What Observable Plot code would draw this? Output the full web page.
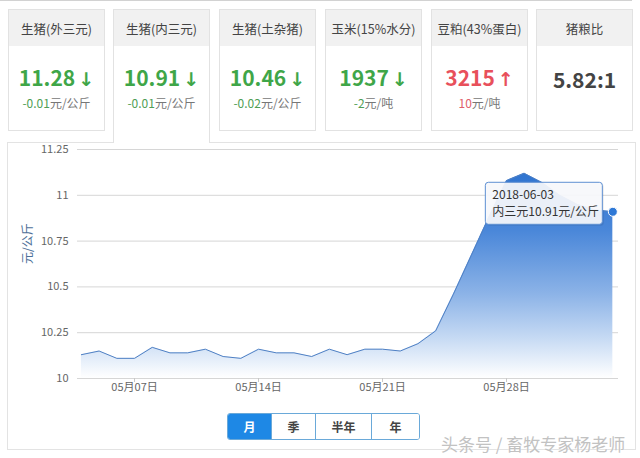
<!DOCTYPE html>
<html>
<head>
<meta charset="utf-8">
<script src="https://cdn.jsdelivr.net/npm/d3@7"></script>
<script src="https://cdn.jsdelivr.net/npm/@observablehq/plot@0.6"></script>
<style>
  html, body { margin: 0; padding: 0; background: #fff; }
  body { width: 640px; height: 458px; position: relative; overflow: hidden;
         font-family: "Noto Sans CJK SC", "Noto Sans", sans-serif; }
  .topline { position: absolute; left: 0; top: 0; width: 632px; height: 1px; background: #d2d2d2; }
  .card { position: absolute; top: 9px; width: 95px; height: 120px; border: 1px solid #e2e2e2;
          background: #fff; box-sizing: content-box; text-align: center; }
  .card.active { height: 133px; border-bottom: none; z-index: 3; }
  .card .hd { height: 36px; line-height: 38px; background: #f1f1f1; font-size: 12.5px; color: #444; }
  .card .val { position: absolute; left: 0; right: 0; top: 53px; line-height: 28px; font-size: 21px; font-weight: bold; }
  .card .chg { position: absolute; left: 0; right: 0; top: 84px; line-height: 18px; font-size: 12px; color: #777; }
  .arrow { font-family: "DejaVu Sans", sans-serif; font-weight: bold; font-size: 19px; margin-left: 3px; }
  .panel { position: absolute; left: 7px; top: 142px; width: 627px; height: 306px; border: 1px solid #e3e3e3; z-index: 1; background: #fff; }
  #chart { position: absolute; left: 7px; top: 137px; z-index: 2; }
  .btns { position: absolute; left: 227px; top: 413px; height: 25px; display: flex; border: 1px solid #6aa9d9;
          border-radius: 3px; overflow: hidden; z-index: 2; }
  .btns div { height: 25px; line-height: 25px; text-align: center; font-size: 12px; font-weight: bold; color: #444; background: #fff;
              border-left: 1px solid #6aa9d9; }
  .btns div:first-child { border-left: none; }
  .btns div.on { background: #1e88e5; color: #fff; }
  .wm { position: absolute; left: 441px; top: 431px; font-size: 17px; color: #c2c2c2; z-index: 4; white-space: nowrap;
        text-shadow: 0 0 2px #fff; }
</style>
</head>
<body>
<div class="topline"></div>
<div id="cards"></div>
<div class="panel"></div>
<div id="chart"></div>
<div class="btns" id="btns"></div>
<div class="wm">头条号 / 畜牧专家杨老师</div>
<script>
// ---- card data ----
const cardTitles = ["生猪(外三元)", "生猪(内三元)", "生猪(土杂猪)", "玉米(15%水分)", "豆粕(43%蛋白)", "猪粮比"];
const cardValues = ["11.28", "10.91", "10.46", "1937", "3215", "5.82:1"];
const cardChanges = ["-0.01", "-0.01", "-0.02", "-2", "10", ""];
const cardUnits = ["元/公斤", "元/公斤", "元/公斤", "元/吨", "元/吨", ""];
const cardDirs = ["down", "down", "down", "down", "up", "none"];
const activeCard = 1;

// ---- series data (内三元, 元/公斤) ----
const dates = [
  "2018-05-04","2018-05-05","2018-05-06","2018-05-07","2018-05-08","2018-05-09","2018-05-10",
  "2018-05-11","2018-05-12","2018-05-13","2018-05-14","2018-05-15","2018-05-16","2018-05-17",
  "2018-05-18","2018-05-19","2018-05-20","2018-05-21","2018-05-22","2018-05-23","2018-05-24",
  "2018-05-25","2018-05-26","2018-05-27","2018-05-28","2018-05-29","2018-05-30","2018-05-31",
  "2018-06-01","2018-06-02","2018-06-03"
];
const prices = [
  10.13, 10.15, 10.11, 10.11, 10.17, 10.14, 10.14,
  10.16, 10.12, 10.11, 10.16, 10.14, 10.14, 10.12,
  10.16, 10.13, 10.16, 10.16, 10.15, 10.19, 10.26,
  10.46, 10.67, 10.88, 11.08, 11.12, 11.07, 11.00,
  10.95, 10.92, 10.91
];
const seriesName = "内三元";
const unitLabel = "元/公斤";
const yTicks = [10, 10.25, 10.5, 10.75, 11, 11.25];
const xTickDates = ["2018-05-07", "2018-05-14", "2018-05-21", "2018-05-28"];
const rangeButtons = ["月", "季", "半年", "年"];

// ---- cards ----
const green = "#3fa648", red = "#e8505b";
const lefts = [8, 113, 219, 325, 431, 536];
const cardsEl = document.getElementById("cards");
cardTitles.forEach((t, i) => {
  const c = document.createElement("div");
  c.className = "card" + (i === activeCard ? " active" : "");
  c.style.left = lefts[i] + "px";
  const col = cardDirs[i] === "down" ? green : cardDirs[i] === "up" ? red : "#444";
  const arrow = cardDirs[i] === "down" ? "↓" : cardDirs[i] === "up" ? "↑" : "";
  let html = `<div class="hd">${t}</div>`;
  html += `<div class="val" style="color:${col}">${cardValues[i]}${arrow ? `<span class="arrow">${arrow}</span>` : ""}</div>`;
  if (cardChanges[i]) {
    const cc = cardDirs[i] === "down" ? "#4f9e55" : "#e0606a";
    html += `<div class="chg"><span style="color:${cc}">${cardChanges[i]}</span>${cardUnits[i]}</div>`;
  }
  c.innerHTML = html;
  if (!cardChanges[i]) c.querySelector(".val").style.top = "55px";
  cardsEl.appendChild(c);
});

// ---- buttons ----
const btnWidths = [43, 43, 55, 47];
const btnsEl = document.getElementById("btns");
rangeButtons.forEach((b, i) => {
  const d = document.createElement("div");
  d.textContent = b;
  d.style.width = btnWidths[i] + "px";
  if (i === 0) d.className = "on";
  btnsEl.appendChild(d);
});

// ---- chart ----
const parse = d3.utcParse("%Y-%m-%d");
const data = dates.map((d, i) => ({date: parse(d), value: prices[i]}));
const day = 864e5;
const xDomain = [new Date(+data[0].date - 0.22 * day), new Date(+data[data.length - 1].date + 0.32 * day)];
const yMin = yTicks[0];
const last = data[data.length - 1];
const fmtTick = d3.utcFormat("%m月%d日");
const fmtDate = d3.utcFormat("%Y-%m-%d");

const gradientMark = (index, scales) => {
  const defs = d3.create("svg:defs");
  const g = defs.append("linearGradient").attr("id", "areaGrad")
    .attr("gradientUnits", "userSpaceOnUse")
    .attr("x1", 0).attr("x2", 0)
    .attr("y1", scales.y(11.15)).attr("y2", scales.y(yMin));
  [[0, "#2c72cf"], [0.3, "#4a87d9"], [0.6, "#8cb3e7"], [0.8, "#c3d8f3"], [1, "#ffffff"]].forEach(([o, c]) =>
    g.append("stop").attr("offset", o).attr("stop-color", c));
  return defs.node();
};

const tooltipMark = (index, scales) => {
  const px = scales.x(last.date), py = scales.y(last.value);
  const g = d3.create("svg:g").attr("transform", `translate(${px - 127},${py - 29})`)
    .attr("text-anchor", "start");
  g.append("rect").attr("x", 1.5).attr("y", 1.5).attr("width", 117).attr("height", 42).attr("rx", 3)
    .attr("fill", "#000").attr("fill-opacity", 0.08);
  g.append("rect").attr("width", 117).attr("height", 42).attr("rx", 3)
    .attr("fill", "#f7f9fc").attr("fill-opacity", 0.93).attr("stroke", "#5d8fd2").attr("stroke-width", 1);
  g.append("text").attr("x", 7).attr("y", 17).attr("font-size", 12).attr("fill", "#333")
    .attr("text-anchor", "start").text(fmtDate(last.date));
  g.append("text").attr("x", 7).attr("y", 34).attr("font-size", 12).attr("fill", "#333")
    .attr("text-anchor", "start").text(seriesName + last.value.toFixed(2) + unitLabel);
  return g.node();
};

const chart = Plot.plot({
  width: 628,
  height: 265,
  marginLeft: 70,
  marginRight: 17,
  marginTop: 12,
  marginBottom: 24,
  style: {fontFamily: "'Noto Sans CJK SC', sans-serif", background: "transparent"},
  x: {type: "utc", domain: xDomain},
  y: {domain: [yMin, yTicks[yTicks.length - 1]]},
  marks: [
    gradientMark,
    Plot.gridY(yTicks, {stroke: "#d6d6d6", strokeOpacity: 1}),
    Plot.areaY(data, {x: "date", y1: () => yMin, y2: "value", fill: "url(#areaGrad)"}),
    Plot.lineY(data, {x: "date", y: "value", stroke: "#4f80c4", strokeWidth: 1}),
    Plot.axisY(yTicks, {tickSize: 0, tickPadding: 9, fontSize: 11, fill: "#666", label: null,
      tickFormat: d => String(d)}),
    Plot.axisX(xTickDates.map(parse), {tickSize: 4, tickPadding: 1, fontSize: 11, stroke: "#c8c8c8", fill: "#666",
      label: null, tickFormat: fmtTick}),
    Plot.text([unitLabel], {frameAnchor: "left", rotate: -90, dx: -49, fontSize: 12, fill: "#4d6f98"}),
    tooltipMark,
    Plot.dot([last], {x: "date", y: "value", r: 4.5, fill: "#2e78d6", stroke: "#fff", strokeWidth: 1})
  ]
});
document.getElementById("chart").appendChild(chart);
</script>
</body>
</html>
